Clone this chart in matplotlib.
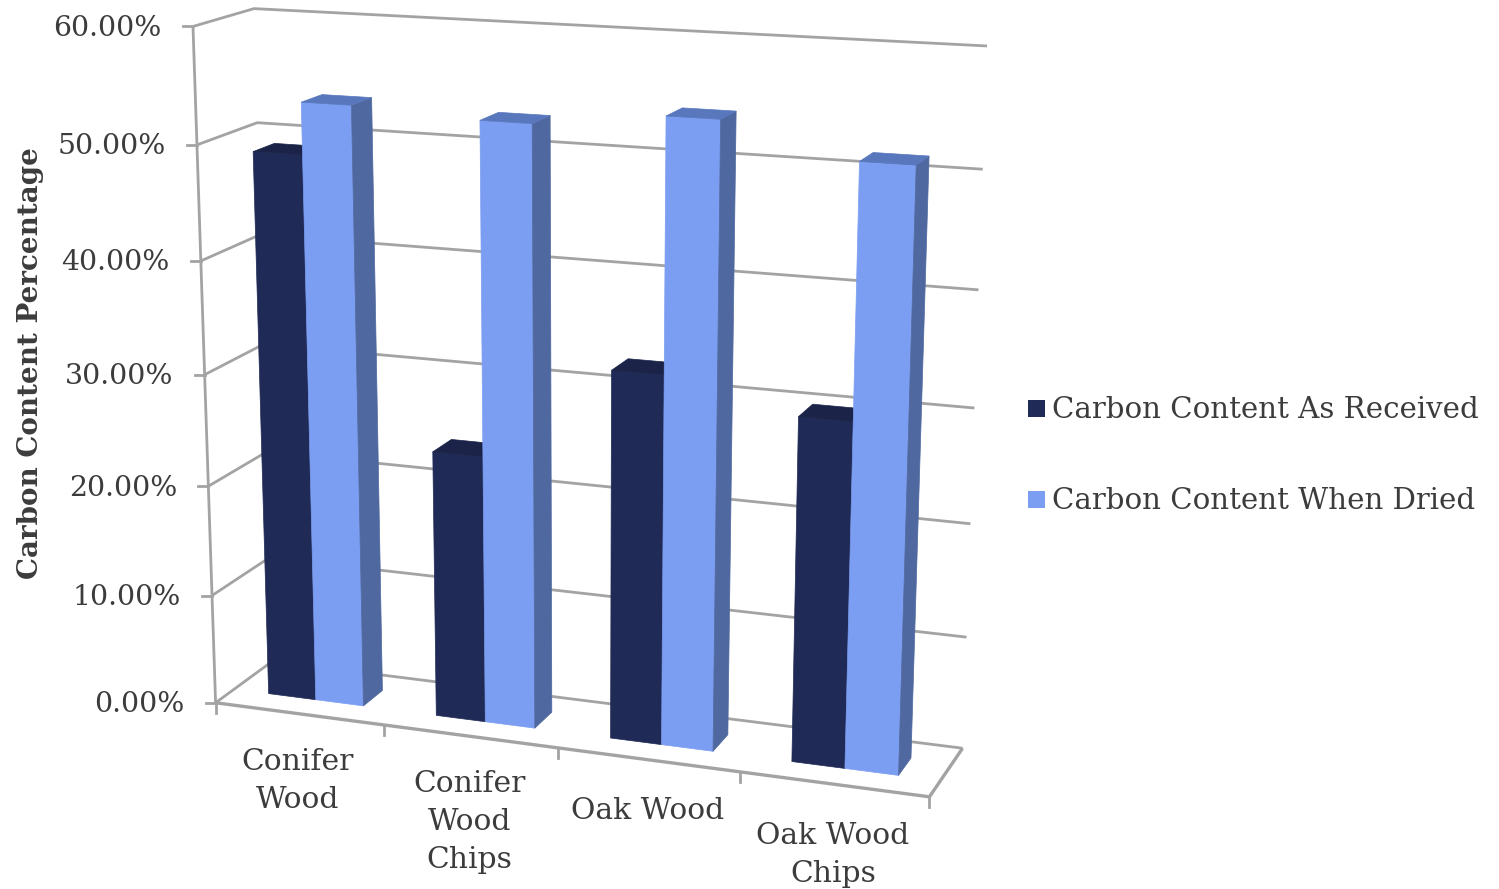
#!/usr/bin/env python3
"""
Carbon content of wood fuels, drawn as a 3D clustered column chart
"""

import matplotlib
matplotlib.use('Agg')
import matplotlib.pyplot as plt
from matplotlib.patches import Polygon, Rectangle
import numpy as np

categories = ['Conifer\nWood', 'Conifer\nWood\nChips', 'Oak Wood', 'Oak Wood\nChips']
as_received = [49.0, 24.0, 32.6, 30.1]
when_dried = [53.5, 52.9, 54.2, 51.5]
series_names = ['Carbon Content As Received', 'Carbon Content When Dried']
value_ticks = [0, 10, 20, 30, 40, 50, 60]
axis_title = 'Carbon Content Percentage'

W, H = 1499, 889
GRID = '#a3a3a3'
TEXT = '#3c3c3c'
FONT = 'DejaVu Serif'
DARK = ('#1f2a56', '#1a2347', '#1b2448')
BLUE = ('#7c9ef2', '#4f689f', '#5877bc')

# Where the corners of the chart box land on the canvas:
# (category position, value, depth) -> (x, y)
frame = [
    ((0, 0, 0), (216, 703)),
    ((4, 0, 0), (929, 797)),
    ((0, 60, 0), (193, 26)),
    ((0, 0, 1), (272, 661)),
    ((4, 0, 1), (963, 748)),
    ((0, 60, 1), (254, 9)),
    ((4, 60, 1), (987, 46)),
]


def fit_camera(pairs):
    """Solve the 3x4 projection matrix from point pairs"""
    rows = []
    for (u, v, d), (x, y) in pairs:
        p = [u, v, d, 1]
        rows.append(p + [0, 0, 0, 0] + [-x * c for c in p])
        rows.append([0, 0, 0, 0] + p + [-y * c for c in p])
    return np.linalg.svd(np.array(rows, dtype=float))[2][-1].reshape(3, 4)


camera = fit_camera(frame)


def project(u, v, d):
    q = camera @ np.array([u, v, d, 1.0])
    return q[0] / q[2], q[1] / q[2]


def line(ax, points, lw=2.0):
    xs, ys = zip(*[project(*p) for p in points])
    ax.plot(xs, ys, color=GRID, lw=lw, solid_capstyle='butt', zorder=1)


def column(ax, left, right, front, back, value, colors):
    """One column: front face, right side and top"""
    front_face = [(left, 0, front), (right, 0, front), (right, value, front), (left, value, front)]
    side_face = [(right, 0, front), (right, 0, back), (right, value, back), (right, value, front)]
    top_face = [(left, value, front), (right, value, front), (right, value, back), (left, value, back)]
    for face, color in zip((front_face, side_face, top_face), colors):
        ax.add_patch(Polygon([project(*p) for p in face], closed=True, facecolor=color,
                             edgecolor=color, lw=0.5, zorder=3))


fig = plt.figure(figsize=(W / 100, H / 100), dpi=100)
ax = fig.add_axes([0, 0, 1, 1])
ax.set_xlim(0, W)
ax.set_ylim(H, 0)
ax.axis('off')

# Walls and floor
for v in value_ticks:
    line(ax, [(0, v, 0), (0, v, 1), (4, v, 1)])
line(ax, [(0, 0, 0), (0, 60, 0)])
line(ax, [(0, 0, 0), (4, 0, 0), (4, 0, 1)], lw=2.4)

# Value axis ticks and labels
for v in value_ticks:
    x, y = project(0, v, 0)
    ax.plot([x - 10, x], [y, y], color=GRID, lw=2.0, zorder=1)
    ax.text(x - 31, y + 2, f'{v:.2f}%', ha='right', va='center', fontsize=20.4,
            family=FONT, color=TEXT)

# Category ticks and labels
label_top = [748, 770, 797, 822]
for i, name in enumerate(categories):
    x, y = project(i, 0, 0)
    ax.plot([x, x], [y, y + 10], color=GRID, lw=2.0, zorder=1)
    cx = project(i + 0.5, 0, 0)[0]
    ax.text(cx - 1, label_top[i], name, ha='center', va='top', fontsize=21.4,
            family=FONT, color=TEXT, linespacing=1.45)
x, y = project(4, 0, 0)
ax.plot([x, x], [y, y + 10], color=GRID, lw=2.0, zorder=1)

# Columns, back to front within each cluster
bar_span = 0.285
for i in range(len(categories)):
    mid = i + 0.495
    column(ax, mid - bar_span, mid, 0.32, 0.68, as_received[i], DARK)
    column(ax, mid, mid + bar_span, 0.32, 0.68, when_dried[i], BLUE)

ax.text(31, 363, axis_title, rotation=90, ha='center', va='center', fontsize=20,
        family=FONT, weight='bold', color=TEXT)

# Legend
for y, name, color in zip((408, 499), series_names, (DARK[0], BLUE[0])):
    ax.add_patch(Rectangle((1028, y - 8.5), 17, 17, facecolor=color, edgecolor='none'))
    ax.text(1052, y + 2, name, ha='left', va='center', fontsize=21.1, family=FONT, color=TEXT)

fig.savefig('out.png', dpi=100, facecolor='white')
